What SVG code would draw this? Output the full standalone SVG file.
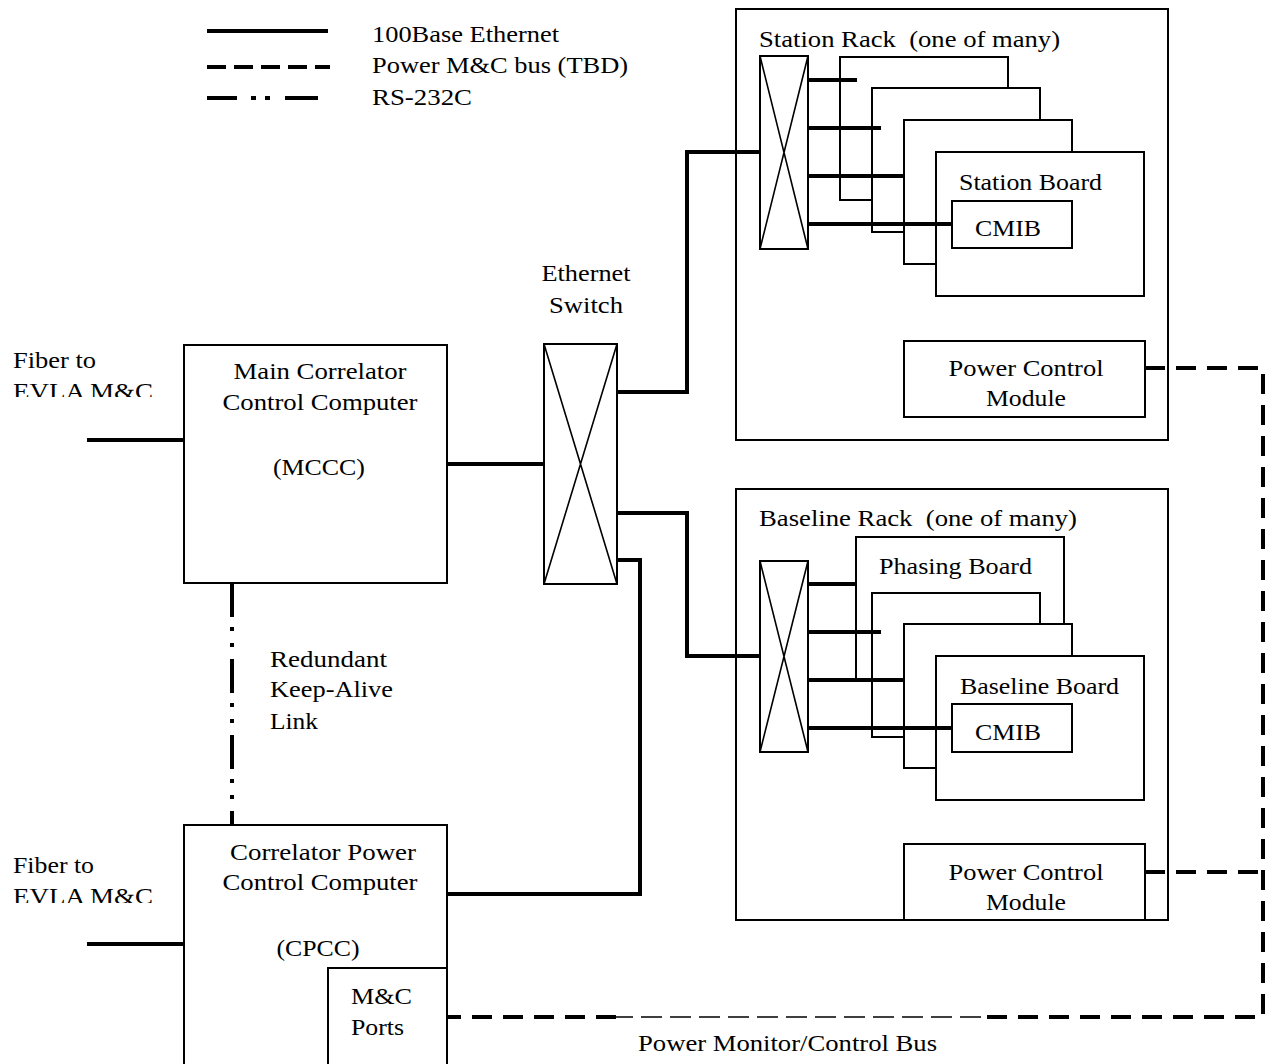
<svg xmlns="http://www.w3.org/2000/svg" width="1272" height="1064" viewBox="0 0 1272 1064" font-family="Liberation Serif, Times New Roman, serif">
<style>
text{font-family:"Liberation Serif","Times New Roman",serif;font-size:24px;fill:#000}
.box{fill:#fff;stroke:#000;stroke-width:2}
.frame{fill:none;stroke:#000;stroke-width:2}
.thin{fill:none;stroke:#000;stroke-width:1.6}
.eth{fill:none;stroke:#000;stroke-width:4}
.pwr{fill:none;stroke:#000;stroke-width:4;stroke-dasharray:20 11}
.pwrthin{fill:none;stroke:#000;stroke-width:1.5;stroke-dasharray:21 8}
.rs{fill:none;stroke:#000;stroke-width:4;stroke-dasharray:34 10 4 12 4 12}
</style>
<defs>
<clipPath id="clipTop"><rect x="0" y="340" width="180" height="57"/></clipPath>
<clipPath id="clipBot"><rect x="0" y="846" width="180" height="57"/></clipPath>
</defs>
<rect width="1272" height="1064" fill="#fff"/>

<g id="legend">
<line x1="207" y1="31" x2="328" y2="31" class="eth"/>
<line x1="207" y1="67" x2="330" y2="67" class="eth" stroke-dasharray="19 8"/>
<path d="M207,98 H237 M251,98 H256 M265,98 H270 M285,98 H318" class="eth"/>
<text x="372" y="42" textLength="187" lengthAdjust="spacingAndGlyphs">100Base Ethernet</text>
<text x="372" y="73" textLength="256" lengthAdjust="spacingAndGlyphs">Power M&amp;C bus (TBD)</text>
<text x="372" y="105" textLength="100" lengthAdjust="spacingAndGlyphs">RS-232C</text>
</g>

<g id="fiber-mccc">
<g clip-path="url(#clipTop)"><text x="13" y="368" textLength="83" lengthAdjust="spacingAndGlyphs">Fiber to</text><text x="13" y="399" textLength="140" lengthAdjust="spacingAndGlyphs">EVLA M&amp;C</text></g>
</g>
<g id="fiber-cpcc">
<g clip-path="url(#clipBot)"><text x="13" y="873" textLength="81" lengthAdjust="spacingAndGlyphs">Fiber to</text><text x="13" y="904" textLength="140" lengthAdjust="spacingAndGlyphs">EVLA M&amp;C</text></g>
</g>

<g id="mccc">
<rect x="184" y="345" width="263" height="238" class="box"/>
<text x="320" y="379" text-anchor="middle" textLength="173" lengthAdjust="spacingAndGlyphs">Main Correlator</text>
<text x="320" y="410" text-anchor="middle" textLength="195" lengthAdjust="spacingAndGlyphs">Control Computer</text>
<text x="319" y="475" text-anchor="middle" textLength="92" lengthAdjust="spacingAndGlyphs">(MCCC)</text>
</g>

<g id="cpcc">
<path d="M184,1066 V825 H447 V1066" class="box"/>
<text x="323" y="860" text-anchor="middle" textLength="186" lengthAdjust="spacingAndGlyphs">Correlator Power</text>
<text x="320" y="890" text-anchor="middle" textLength="195" lengthAdjust="spacingAndGlyphs">Control Computer</text>
<text x="318" y="956" text-anchor="middle" textLength="83" lengthAdjust="spacingAndGlyphs">(CPCC)</text>
</g>
<g id="mc-ports">
<path d="M328,1066 V968 H447 V1066" class="box"/>
<text x="351" y="1004" textLength="61" lengthAdjust="spacingAndGlyphs">M&amp;C</text>
<text x="351" y="1035" textLength="53" lengthAdjust="spacingAndGlyphs">Ports</text>
</g>

<g id="keepalive-label">
<text x="270" y="667" textLength="117" lengthAdjust="spacingAndGlyphs">Redundant</text>
<text x="270" y="697" textLength="123" lengthAdjust="spacingAndGlyphs">Keep-Alive</text>
<text x="270" y="729" textLength="48" lengthAdjust="spacingAndGlyphs">Link</text>
</g>

<g id="ethernet-switch">
<rect x="544" y="344" width="73" height="240" class="box"/>
<path d="M544,344 L617,584 M617,344 L544,584" class="thin"/>
<text x="586" y="281" text-anchor="middle" textLength="89" lengthAdjust="spacingAndGlyphs">Ethernet</text>
<text x="586" y="313" text-anchor="middle" textLength="74" lengthAdjust="spacingAndGlyphs">Switch</text>
</g>

<g id="station-rack">
<rect x="736" y="9" width="432" height="431" class="frame"/>
<text x="759" y="47" textLength="301" lengthAdjust="spacingAndGlyphs" xml:space="preserve">Station Rack  (one of many)</text>
<rect x="760" y="56" width="48" height="193" class="box"/>
<path d="M760,56 L808,249 M808,56 L760,249" class="thin"/>
<rect x="840" y="57" width="168" height="143" class="box"/>
<rect x="872" y="88" width="168" height="144" class="box"/>
<rect x="904" y="120" width="168" height="144" class="box"/>
<g id="station-board">
<rect x="936" y="152" width="208" height="144" class="box"/>
<text x="959" y="190" textLength="143" lengthAdjust="spacingAndGlyphs">Station Board</text>
</g>
<g id="station-cmib">
<rect x="952" y="201" width="120" height="47" class="box"/>
<text x="975" y="236" textLength="66" lengthAdjust="spacingAndGlyphs">CMIB</text>
</g>
<g id="station-pcm">
<rect x="904" y="341" width="241" height="76" class="box"/>
<text x="1026" y="376" text-anchor="middle" textLength="155" lengthAdjust="spacingAndGlyphs">Power Control</text>
<text x="1026" y="406" text-anchor="middle" textLength="80" lengthAdjust="spacingAndGlyphs">Module</text>
</g>
</g>

<g id="baseline-rack">
<rect x="736" y="489" width="432" height="431" class="frame"/>
<text x="759" y="526" textLength="318" lengthAdjust="spacingAndGlyphs" xml:space="preserve">Baseline Rack  (one of many)</text>
<rect x="760" y="561" width="48" height="191" class="box"/>
<path d="M760,561 L808,752 M808,561 L760,752" class="thin"/>
<g id="phasing-board">
<rect x="856" y="537" width="208" height="143" class="box"/>
<text x="879" y="574" textLength="153" lengthAdjust="spacingAndGlyphs">Phasing Board</text>
</g>
<rect x="872" y="593" width="168" height="144" class="box"/>
<rect x="904" y="624" width="168" height="144" class="box"/>
<g id="baseline-board">
<rect x="936" y="656" width="208" height="144" class="box"/>
<text x="960" y="694" textLength="159" lengthAdjust="spacingAndGlyphs">Baseline Board</text>
</g>
<g id="baseline-cmib">
<rect x="952" y="704" width="120" height="48" class="box"/>
<text x="975" y="740" textLength="66" lengthAdjust="spacingAndGlyphs">CMIB</text>
</g>
<g id="baseline-pcm">
<rect x="904" y="844" width="241" height="76" class="box"/>
<text x="1026" y="880" text-anchor="middle" textLength="155" lengthAdjust="spacingAndGlyphs">Power Control</text>
<text x="1026" y="910" text-anchor="middle" textLength="80" lengthAdjust="spacingAndGlyphs">Module</text>
</g>
</g>

<g id="connectors">
<path d="M87,440 H184" class="eth"/>
<path d="M87,944 H184" class="eth"/>
<path d="M447,464 H544" class="eth"/>
<path d="M617,392 H687 V152 H760" class="eth"/>
<path d="M617,513 H687 V656 H760" class="eth"/>
<path d="M617,560 H640 V894 H447" class="eth"/>
<path d="M808,80 H857 M808,128 H881 M808,176 H905 M808,224 H952" class="eth"/>
<path d="M808,584 H857 M808,632 H881 M808,680 H905 M808,728 H952" class="eth"/>
<path d="M232,583 V825" class="rs"/>
<path d="M1145,368 H1263 V1017 H981" class="pwr"/>
<path d="M981,1017 H616" class="pwrthin"/>
<path d="M616,1017 H447" class="pwr"/>
<path d="M1145,872 H1263" class="pwr"/>
<text x="638" y="1051" textLength="299" lengthAdjust="spacingAndGlyphs">Power Monitor/Control Bus</text>
</g>
</svg>
